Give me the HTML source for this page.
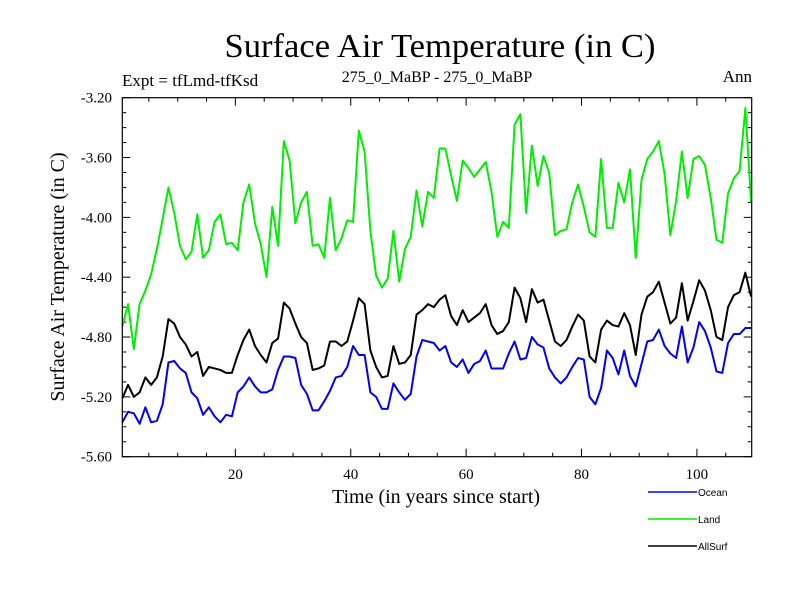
<!DOCTYPE html>
<html><head><meta charset="utf-8"><style>
body{margin:0;background:#fff}
svg text{font-family:"Liberation Serif",serif;fill:#000}
</style></head><body>
<svg id="chart" width="800" height="600" viewBox="0 0 800 600" xmlns="http://www.w3.org/2000/svg">
<rect width="800" height="600" fill="#fff"/>
<text x="440" y="57" font-size="34" text-anchor="middle" textLength="431" lengthAdjust="spacingAndGlyphs">Surface Air Temperature (in C)</text>
<text x="122" y="86" font-size="17">Expt = tfLmd-tfKsd</text>
<text x="437" y="82" font-size="16" text-anchor="middle">275_0_MaBP - 275_0_MaBP</text>
<text x="752" y="82" font-size="17" text-anchor="end">Ann</text>
<text transform="translate(64,277) rotate(-90)" font-size="20" text-anchor="middle">Surface Air Temperature (in C)</text>
<text x="436" y="503" font-size="20" text-anchor="middle">Time (in years since start)</text>
<g id="ticks"></g>
<g id="series"></g>
<rect x="122.3" y="97.7" width="629.4" height="359" fill="none" stroke="#000" stroke-width="1.2"/>
<g id="legend"></g>
</svg>
<script>
const ocean=[-5.37,-5.30,-5.31,-5.38,-5.27,-5.37,-5.36,-5.25,-4.97,-4.96,-5.01,-5.04,-5.17,-5.21,-5.32,-5.27,-5.33,-5.37,-5.32,-5.33,-5.17,-5.13,-5.07,-5.13,-5.17,-5.17,-5.15,-5.02,-4.93,-4.93,-4.94,-5.12,-5.18,-5.29,-5.29,-5.23,-5.16,
-5.07,-5.06,-5.00,-4.86,-4.92,-4.92,-5.17,-5.20,-5.28,-5.28,-5.11,-5.17,-5.22,-5.18,-4.93,-4.82,-4.83,-4.84,-4.89,-4.86,-4.97,-5.00,-4.95,-5.04,-4.98,-4.96,-4.89,-5.01,-5.01,-5.01,-4.91,-4.83,-4.95,-4.94,-4.80,-4.85,
-4.87,-5.01,-5.07,-5.11,-5.07,-5.00,-4.94,-4.95,-5.20,-5.25,-5.14,-4.89,-4.94,-5.05,-4.89,-5.06,-5.13,-4.98,-4.83,-4.82,-4.75,-4.86,-4.91,-4.94,-4.73,-4.97,-4.87,-4.70,-4.76,-4.87,-5.03,-5.04,-4.84,-4.78,-4.78,-4.74,-4.74];
const land=[-4.73,-4.58,-4.88,-4.58,-4.49,-4.38,-4.21,-4.01,-3.80,-3.97,-4.19,-4.28,-4.23,-3.98,-4.27,-4.22,-4.03,-3.98,-4.18,-4.17,-4.22,-3.90,-3.78,-4.04,-4.18,-4.40,-3.93,-4.19,-3.49,-3.62,-4.04,-3.90,-3.83,-4.19,-4.18,-4.27,-3.87,
-4.22,-4.14,-4.02,-4.03,-3.42,-3.56,-4.09,-4.39,-4.47,-4.41,-4.09,-4.43,-4.21,-4.13,-3.82,-4.06,-3.83,-3.87,-3.54,-3.54,-3.72,-3.89,-3.62,-3.67,-3.73,-3.68,-3.63,-3.83,-4.13,-4.03,-4.07,-3.38,-3.31,-3.97,-3.52,-3.79,
-3.59,-3.70,-4.12,-4.09,-4.08,-3.90,-3.78,-3.93,-4.10,-4.13,-3.61,-4.07,-4.07,-3.77,-3.90,-3.68,-4.27,-3.75,-3.61,-3.56,-3.49,-3.71,-4.12,-3.89,-3.56,-3.87,-3.61,-3.59,-3.65,-3.87,-4.15,-4.17,-3.84,-3.74,-3.69,-3.27,-3.90];
const allsurf=[-5.21,-5.12,-5.20,-5.17,-5.07,-5.12,-5.07,-4.93,-4.68,-4.71,-4.80,-4.85,-4.93,-4.90,-5.06,-5.00,-5.01,-5.02,-5.04,-5.04,-4.92,-4.82,-4.75,-4.86,-4.92,-4.97,-4.84,-4.81,-4.57,-4.61,-4.71,-4.80,-4.84,-5.02,-5.01,-4.99,-4.83,
-4.83,-4.86,-4.83,-4.69,-4.54,-4.58,-4.89,-5.00,-5.07,-5.06,-4.86,-4.98,-4.97,-4.92,-4.65,-4.62,-4.58,-4.60,-4.55,-4.52,-4.66,-4.72,-4.62,-4.70,-4.67,-4.64,-4.58,-4.72,-4.78,-4.76,-4.70,-4.47,-4.54,-4.70,-4.48,-4.57,
-4.55,-4.69,-4.83,-4.86,-4.82,-4.73,-4.65,-4.69,-4.93,-4.97,-4.75,-4.69,-4.72,-4.73,-4.64,-4.72,-4.92,-4.65,-4.53,-4.50,-4.43,-4.57,-4.71,-4.67,-4.44,-4.69,-4.56,-4.42,-4.49,-4.62,-4.80,-4.82,-4.60,-4.52,-4.50,-4.37,-4.53];
const yTickLabels=["-3.20","-3.60","-4.00","-4.40","-4.80","-5.20","-5.60"];
const xTickLabels=["20","40","60","80","100"];
const seriesNames=["Ocean","Land","AllSurf"];
const seriesColors=["#0000ff","#00ee00","#000000"];

const NS="http://www.w3.org/2000/svg";
const X0=122.3,X1=751.7,Y0=97.7,Y1=456.7;
const tMin=0.4,tMax=109.5,vMax=-3.2,vMin=-5.6;
function xs(t){return X0+(t-tMin)/(tMax-tMin)*(X1-X0);}
function ys(v){return Y0+(vMax-v)/(vMax-vMin)*(Y1-Y0);}
function mk(tag,attrs,parent){const e=document.createElementNS(NS,tag);for(const k in attrs)e.setAttribute(k,attrs[k]);parent.appendChild(e);return e;}

const ticks=document.getElementById('ticks');
// y ticks
for(let k=0;k<=24;k++){
  const v=vMax-k*0.1, y=ys(v), major=k%4===0, L=major?8:4;
  const a=mk('line',{x1:X0,x2:X0+L,y1:y,y2:y,stroke:'#000','stroke-width':1},ticks);
  
  
  const b=mk('line',{x1:X1,x2:X1-L,y1:y,y2:y,stroke:'#000','stroke-width':1},ticks);
  
  
}
yTickLabels.forEach(s=>{
  const t=mk('text',{x:112,y:ys(parseFloat(s))+5,'font-size':15,'text-anchor':'end'},ticks);
  t.textContent=s;
  
  
});
// x ticks
for(let yr=5;yr<=105;yr+=5){
  const x=xs(yr), major=yr%20===0, L=major?8:4;
  const a=mk('line',{x1:x,x2:x,y1:Y1,y2:Y1-L,stroke:'#000','stroke-width':1},ticks);
  
  
  const b=mk('line',{x1:x,x2:x,y1:Y0,y2:Y0+L,stroke:'#000','stroke-width':1},ticks);
  
  
}
xTickLabels.forEach(s=>{
  const t=mk('text',{x:xs(parseFloat(s)),y:479,'font-size':15,'text-anchor':'middle'},ticks);
  t.textContent=s;
  
  
});
// series
const sg=document.getElementById('series');
[ocean,land,allsurf].forEach((arr,si)=>{
  const pts=arr.map((v,i)=>xs(tMin+i).toFixed(2)+','+ys(v).toFixed(2)).join(' ');
  const p=mk('polyline',{points:pts,fill:'none',stroke:seriesColors[si],'stroke-width':2,'stroke-linejoin':'round'},sg);
  
  
});
// legend
const lg=document.getElementById('legend');
seriesNames.forEach((n,i)=>{
  const y=492+i*27;
  const l=mk('line',{x1:648,x2:697,y1:y,y2:y,stroke:seriesColors[i],'stroke-width':1.5},lg);
  
  
  const t=mk('text',{x:698,y:y+4,'font-size':10},lg);
  t.setAttribute('style','font-family:"Liberation Sans",sans-serif');
  t.textContent=n;
  
  
});
</script>
</body></html>
